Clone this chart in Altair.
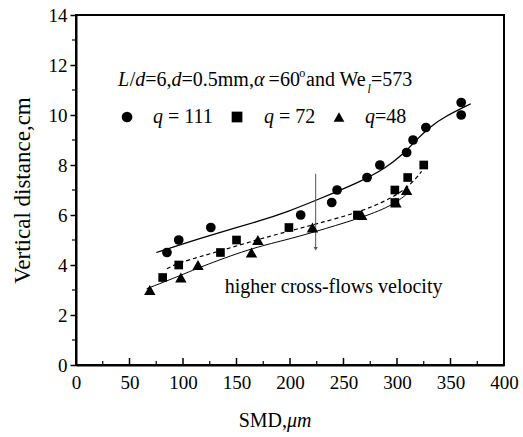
import altair as alt
import pandas as pd

# ---- measured data ----
circ_x = [85, 96, 126, 210, 239, 244, 272, 284, 309, 315, 327, 360, 360]
circ_y = [4.5, 5.0, 5.5, 6.0, 6.5, 7.0, 7.5, 8.0, 8.5, 9.0, 9.5, 10.0, 10.5]
sq_x = [81, 96, 135, 150, 199, 263, 298, 298, 310, 325]
sq_y = [3.5, 4.0, 4.5, 5.0, 5.5, 6.0, 6.5, 7.0, 7.5, 8.0]
tri_x = [69, 98, 114, 164, 170, 221, 267, 299, 309]
tri_y = [3.0, 3.5, 4.0, 4.5, 5.0, 5.5, 6.0, 6.5, 7.0]

# fitted curves
circ_fit_x = [75, 100, 130, 171, 199, 225, 267, 290, 305, 318, 330, 345, 369]
circ_fit_y = [4.5, 4.85, 5.25, 5.75, 6.15, 6.6, 7.35, 7.9, 8.4, 9.0, 9.5, 9.95, 10.45]
sq_fit_x = [85, 96, 134, 168, 199, 225, 264, 295, 314, 323]
sq_fit_y = [3.85, 4.1, 4.55, 5.0, 5.35, 5.65, 6.1, 6.65, 7.25, 7.75]
tri_fit_x = [66, 96, 115, 162, 196, 221, 264, 295, 311]
tri_fit_y = [3.05, 3.55, 3.9, 4.65, 5.0, 5.3, 5.85, 6.35, 6.9]

x_ticks = [0, 50, 100, 150, 200, 250, 300, 350, 400]
x_minor = [25, 75, 125, 175, 225, 275, 325, 375]
y_ticks = [0, 2, 4, 6, 8, 10, 12, 14]
y_minor = [1, 3, 5, 7, 9, 11, 13]

arrow_x = [224, 224]
arrow_y = [7.65, 4.65]

FONT = "Liberation Serif"
W, H = 428, 350

xs = alt.Scale(domain=[0, 400], nice=False)
ys = alt.Scale(domain=[0, 14], nice=False)


def df(x, y):
    return pd.DataFrame({"x": x, "y": y})


def X(**kw):
    return alt.X("x:Q", scale=xs, **kw)


def Y(**kw):
    return alt.Y("y:Q", scale=ys, **kw)


base_axes = alt.Chart(df([0], [0])).mark_point(opacity=0).encode(
    x=X(axis=alt.Axis(values=x_ticks, ticks=False, labelPadding=8, title=None,
                      grid=False, labelFlush=False)),
    y=Y(axis=alt.Axis(values=y_ticks, tickSize=6, tickWidth=1.5, labelPadding=3,
                      title="Vertical distance,cm", titlePadding=14, titleFontSize=23,
                      titleFontWeight="normal", grid=False)),
)

# inward x ticks
xt_major = alt.Chart(df(x_ticks[1:-1], [0] * 7)).mark_rule(color="black", strokeWidth=1.5).encode(
    x=X(), y=alt.value(H), y2=alt.value(H - 7))
xt_minor = alt.Chart(df(x_minor, [0] * 8)).mark_rule(color="black", strokeWidth=1.2).encode(
    x=X(), y=alt.value(H), y2=alt.value(H - 4))
# outward minor y ticks
yt_minor = alt.Chart(df([0] * 7, y_minor)).mark_rule(color="black", strokeWidth=1.2).encode(
    y=Y(), x=alt.value(-4), x2=alt.value(0))

circ_line = alt.Chart(df(circ_fit_x, circ_fit_y)).mark_line(
    color="black", strokeWidth=1.3, interpolate="basis").encode(x=X(), y=Y())
sq_line = alt.Chart(df(sq_fit_x, sq_fit_y)).mark_line(
    color="black", strokeWidth=1.2, strokeDash=[4, 3], interpolate="basis").encode(x=X(), y=Y())
tri_line = alt.Chart(df(tri_fit_x, tri_fit_y)).mark_line(
    color="black", strokeWidth=1.0, interpolate="basis").encode(x=X(), y=Y())

circ_pts = alt.Chart(df(circ_x, circ_y)).mark_point(
    shape="circle", filled=True, color="black", size=95, opacity=1).encode(x=X(), y=Y())
sq_pts = alt.Chart(df(sq_x, sq_y)).mark_point(
    shape="square", filled=True, color="black", size=75, opacity=1).encode(x=X(), y=Y())
tri_pts = alt.Chart(df(tri_x, tri_y)).mark_point(
    shape="triangle-up", filled=True, color="black", size=130, opacity=1).encode(x=X(), y=Y())

arrow_line = alt.Chart(df(arrow_x, arrow_y)).mark_line(color="#555555", strokeWidth=1).encode(
    x=X(), y=Y())
arrow_head = alt.Chart(df(arrow_x[1:], arrow_y[1:])).mark_point(
    shape="triangle-down", filled=True, color="#555555", size=18, opacity=1).encode(x=X(), y=Y())

# legend markers
leg_marks = pd.DataFrame({"x": [47.7, 150.5, 245.8], "y": [9.92, 9.92, 9.92],
                          "s": ["circle", "square", "triangle-up"]})
leg_pts = alt.Chart(leg_marks).mark_point(filled=True, color="black", size=115, opacity=1).encode(
    x=X(), y=Y(),
    shape=alt.Shape("s:N", scale=alt.Scale(domain=["circle", "square", "triangle-up"],
                                           range=["circle", "square", "triangle-up"]), legend=None))

# annotation text pieces
hy = 11.4
ly = 9.92
normal_txt = pd.DataFrame({
    "t": ["/", "=6,", "=0.5mm,", "=60", "and We", "=573", "= 111", "= 72", "=48",
          "higher cross-flows velocity", "o"],
    "x": [50.3, 64.7, 98.6, 180.0, 215.0, 275.7, 86.0, 189.7, 279.4, 139, 208.6],
    "y": [hy, hy, hy, hy, hy, hy, ly, ly, ly, 3.12, hy + 0.3],
    "fs": [20, 20, 20, 20, 20, 20, 20, 20, 20, 20, 12],
})
italic_txt = pd.DataFrame({
    "t": ["L", "d", "d", "α", "l", "q", "q", "q"],
    "x": [39.25, 55.3, 89.3, 166.4, 272.4, 72.0, 175.7, 270.1],
    "y": [hy, hy, hy, hy, hy - 0.35, ly, ly, ly],
    "fs": [20, 20, 20, 20, 12, 20, 20, 20],
})
t_norm = alt.Chart(normal_txt).mark_text(align="left", baseline="middle", font=FONT,
                                         color="black").encode(
    x=X(), y=Y(), text="t:N", size=alt.Size("fs:Q", scale=None, legend=None))
t_ital = alt.Chart(italic_txt).mark_text(align="left", baseline="middle", font=FONT,
                                         fontStyle="italic", color="black").encode(
    x=X(), y=Y(), text="t:N", size=alt.Size("fs:Q", scale=None, legend=None))

# x axis title with italic unit
xtitle_n = alt.Chart(pd.DataFrame({"t": ["SMD,"], "x": [200]})).mark_text(
    align="right", baseline="middle", font=FONT, fontSize=20, color="black", dx=-3).encode(
    x=X(), y=alt.value(H + 56), text="t:N")
xtitle_i = alt.Chart(pd.DataFrame({"t": ["μm"], "x": [200]})).mark_text(
    align="left", baseline="middle", font=FONT, fontSize=20, fontStyle="italic", color="black",
    dx=-3).encode(x=X(), y=alt.value(H + 56), text="t:N")

chart = alt.layer(
    base_axes, xt_major, xt_minor, yt_minor,
    circ_line, sq_line, tri_line,
    arrow_line, arrow_head,
    circ_pts, sq_pts, tri_pts,
    leg_pts, t_norm, t_ital, xtitle_n, xtitle_i,
).resolve_scale(size="independent", shape="independent").properties(
    width=W, height=H,
    autosize=alt.AutoSizeParams(type="none"),
    padding={"left": 76, "top": 15, "right": 19, "bottom": 72},
    background="white",
).configure_view(
    stroke="black", strokeWidth=2,
).configure_axis(
    labelFont=FONT, titleFont=FONT, labelFontSize=19, labelColor="black",
    titleColor="black", domainColor="black", domainWidth=2, tickColor="black",
)

chart.save("out.html", embed_options={"renderer": "svg", "actions": False})
